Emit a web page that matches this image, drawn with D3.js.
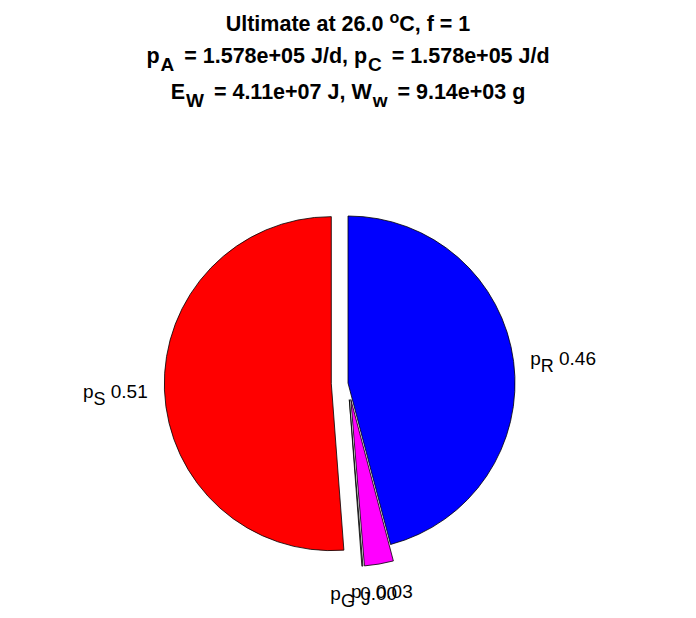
<!DOCTYPE html>
<html>
<head>
<meta charset="utf-8">
<script src="https://cdn.jsdelivr.net/npm/d3@7"></script>
<style>
  body { margin: 0; background: #fff; }
  text { font-family: "Liberation Sans", Arial, sans-serif; }
</style>
</head>
<body>
<svg id="chart" width="696" height="618"></svg>
<script>
// ---- data (slices drawn counter-clockwise from 12 o'clock) ----
const sliceNames = ["S", "G", "J", "R"];
const sliceValues = [0.512, 0.001, 0.028, 0.459];
const sliceLabels = ["0.51", "0.00", "0.03", "0.46"];
const sliceColors = ["#ff0000", "#808080", "#ff00ff", "#0000ff"];
const explode = [1, 1, 1, 0];
const titleTemp = "26.0";
const titleF = "1";
const pA = "1.578e+05";
const pC = "1.578e+05";
const EW = "4.11e+07";
const Ww = "9.14e+03";

// ---- layout ----
const svg = d3.select("#chart");
const cx = 348, cy = 383, r = 167;
const explodeDist = 0.1 * r;

const pie = d3.pie().sort(null).value(d => d.v).startAngle(0).endAngle(-2 * Math.PI);
const data = sliceValues.map((v, i) => ({ v, i }));
const arcs = pie(data);
const arcGen = d3.arc().innerRadius(0).outerRadius(r);

const g = svg.append("g").attr("transform", `translate(${cx},${cy})`);

function offsetOf(a) {
  const i = a.data.i;
  const mid = (a.startAngle + a.endAngle) / 2;
  return [explode[i] * explodeDist * Math.sin(mid), -explode[i] * explodeDist * Math.cos(mid), mid];
}

arcs.forEach(a => {
  const i = a.data.i;
  const [ox, oy] = offsetOf(a);
  g.append("path")
    .attr("d", arcGen(a))
    .attr("transform", `translate(${ox},${oy})`)
    .attr("fill", sliceColors[i])
    .attr("stroke", "#000")
    .attr("stroke-width", 0.8)
    .attr("stroke-linejoin", "round");
});

// labels
const labelFont = 19, subFont = 18, subShift = 7;
arcs.forEach(a => {
  const i = a.data.i;
  const [ox, oy, mid] = offsetOf(a);
  const lx = ox + 1.1 * r * Math.sin(mid);
  const ly = oy - 1.1 * r * Math.cos(mid);
  const s = Math.sin(mid), c = Math.cos(mid);
  let anchor = "middle", x = lx, y = ly;
  if (s > 0.4) { anchor = "start"; y = ly + 6; }
  else if (s < -0.4) { anchor = "end"; y = ly + 7; }
  else { anchor = "middle"; y = ly + (c < 0 ? 17 : -6); }
  const t = g.append("text")
    .attr("x", x).attr("y", y)
    .attr("text-anchor", anchor)
    .attr("font-size", labelFont)
    .attr("fill", "#000");
  t.append("tspan").text("p");
  t.append("tspan").attr("dy", subShift).attr("font-size", subFont).text(sliceNames[i]);
  t.append("tspan").attr("dy", -subShift).text(" " + sliceLabels[i]);
});

// title
const titleFont = 21.5, tSub = 19, tShift = 8, tGap = 4;
const title = svg.append("g").attr("font-weight", "bold").attr("font-size", titleFont).attr("fill", "#000");
const tx = 348;
const l1 = title.append("text").attr("x", tx).attr("y", 31).attr("text-anchor", "middle");
l1.append("tspan").text("Ultimate at " + titleTemp + " ");
l1.append("tspan").attr("dy", -8).attr("font-size", 16).text("o");
l1.append("tspan").attr("dy", 8).text("C, f = " + titleF);

function subLine(sel, parts) {
  // parts: alternating normal / subscript strings
  parts.forEach((p, k) => {
    const ts = sel.append("tspan").text(p);
    if (k % 2 === 1) ts.attr("dy", tShift).attr("dx", 1).attr("font-size", tSub);
    else if (k > 0) ts.attr("dy", -tShift).attr("dx", tGap);
  });
}

const l2 = title.append("text").attr("x", tx).attr("y", 63).attr("text-anchor", "middle");
subLine(l2, ["p", "A", " = " + pA + " J/d, p", "C", " = " + pC + " J/d"]);

const l3 = title.append("text").attr("x", tx).attr("y", 99).attr("text-anchor", "middle");
subLine(l3, ["E", "W", " = " + EW + " J, W", "w", " = " + Ww + " g"]);
</script>
</body>
</html>
